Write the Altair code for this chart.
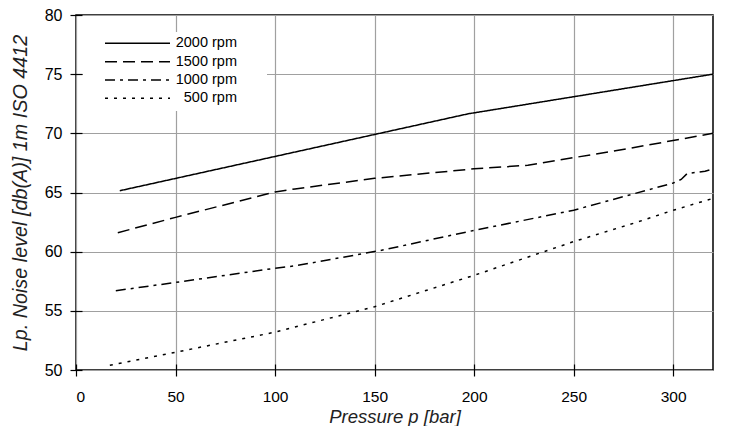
import altair as alt
import pandas as pd

# ---- data ----
series_names = ["2000 rpm", "1500 rpm", "1000 rpm", "500 rpm"]

p_2000 = [22, 197, 320]
n_2000 = [65.15, 71.65, 75.0]

p_1500 = [21, 50, 100, 110, 150, 200, 227, 277, 320]
n_1500 = [61.6, 62.9, 65.05, 65.3, 66.2, 67.0, 67.3, 68.7, 70.0]

p_1000 = [20, 50, 100, 110, 153, 200, 250, 300, 304, 307, 316, 320]
n_1000 = [56.7, 57.4, 58.6, 58.8, 60.1, 61.8, 63.5, 65.8, 66.1, 66.6, 66.8, 67.0]

p_500 = [17, 50, 100, 150, 200, 221, 250, 282, 300, 320]
n_500 = [50.4, 51.5, 53.2, 55.35, 58.0, 59.2, 60.85, 62.5, 63.5, 64.5]

x_ticks = [0, 50, 100, 150, 200, 250, 300]
y_ticks = [50, 55, 60, 65, 70, 75, 80]

dashes = [[1, 0], [12, 6], [10, 5, 3, 5], [3, 6]]

rows = []
for name, ps, ns in zip(series_names, [p_2000, p_1500, p_1000, p_500],
                        [n_2000, n_1500, n_1000, n_500]):
    for i, (p, n) in enumerate(zip(ps, ns)):
        rows.append({"series": name, "p": p, "n": n, "order": i})
df = pd.DataFrame(rows)

FONT = "Liberation Sans"

lines = alt.Chart(df).mark_line(color="black", strokeWidth=1.5, strokeCap="butt").encode(
    x=alt.X("p:Q", scale=alt.Scale(domain=[0, 320], nice=False),
            axis=alt.Axis(values=x_ticks, title="Pressure p [bar]", grid=True,
                          offset=-6, tickSize=12, domain=False, labelPadding=13,
                          labelFontSize=15.5, titleFontSize=18.5, titlePadding=3)),
    y=alt.Y("n:Q", scale=alt.Scale(domain=[50, 80], nice=False, zero=False),
            axis=alt.Axis(values=y_ticks, title="Lp. Noise level [db(A)] 1m ISO 4412",
                          grid=True, offset=-6, tickSize=12, domain=False,
                          labelPadding=8, labelFontSize=16, titleFontSize=19.8,
                          titlePadding=14)),
    strokeDash=alt.StrokeDash("series:N", scale=alt.Scale(domain=series_names, range=dashes),
                              legend=None),
    detail="series:N",
    order="order:Q",
)

# ---- custom legend (white box, sample lines, right-aligned labels) ----
one = pd.DataFrame({"k": [0]})
legend_layers = [
    alt.Chart(one).mark_rect(color="white").encode(
        x=alt.value(7), x2=alt.value(191), y=alt.value(17), y2=alt.value(96))
]
row_y = [28.3, 46.7, 65.0, 83.3]
for name, dash, yy in zip(series_names, dashes, row_y):
    legend_layers.append(
        alt.Chart(one).mark_rule(color="black", strokeWidth=1.5, strokeCap="butt",
                                 strokeDash=dash).encode(
            x=alt.value(29), x2=alt.value(94), y=alt.value(yy)))
    legend_layers.append(
        alt.Chart(one).mark_text(align="right", baseline="middle", fontSize=14.5,
                                 font=FONT, color="black").encode(
            x=alt.value(161), y=alt.value(yy), text=alt.value(name)))

chart = alt.layer(*legend_layers, lines).properties(
    width=637, height=355,
    autosize=alt.AutoSizeParams(type="none"),
    padding={"left": 68, "top": 7, "right": 13, "bottom": 56},
    background="white",
).configure_view(
    stroke="black", strokeWidth=1.5
).configure_axis(
    labelFont=FONT, labelColor="black",
    titleFont=FONT, titleFontStyle="italic", titleFontWeight="normal",
    titleColor="#222",
    gridColor="#a0a0a0", gridWidth=1.2, tickColor="black", tickWidth=1.2,
)

chart.save("out.html", embed_options={"renderer": "svg", "actions": False})
